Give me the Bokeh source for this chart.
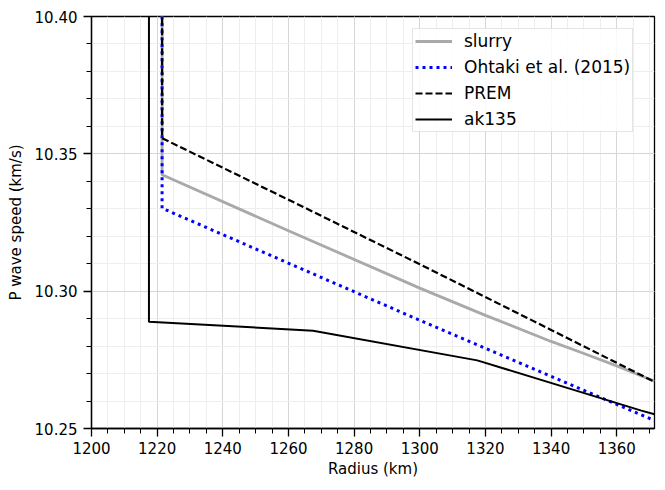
from bokeh.plotting import figure
from bokeh.embed import file_html
from bokeh.resources import INLINE
from bokeh.models import Range1d, SingleIntervalTicker, NumeralTickFormatter, Legend, LegendItem

# --- data ---
slurry_r = [1221.5, 1221.5, 1260.0, 1300.0, 1320.0, 1340.0, 1350.0, 1360.0, 1371.5]
slurry_v = [11.05, 10.3424, 10.3220, 10.3011, 10.2912, 10.2817, 10.2773, 10.2728, 10.2672]

ohtaki_r = [1221.5, 1221.5, 1300.0, 1371.5]
ohtaki_v = [11.05, 10.3302, 10.2894, 10.2529]

prem_r = [1221.5, 1221.5, 1260.0, 1300.0, 1340.0, 1371.5]
prem_v = [11.2622, 10.3557, 10.3333, 10.3098, 10.2859, 10.2670]

ak135_r = [1217.5, 1217.5, 1267.5, 1317.5, 1367.5, 1371.5]
ak135_v = [11.0427, 10.2889, 10.2856, 10.2748, 10.2565, 10.2552]

x_lo, x_hi = 1200.0, 1371.5
y_lo, y_hi = 10.25, 10.40

FONT = "DejaVu Sans"

p = figure(width=663, height=484, output_backend="svg", toolbar_location=None,
           x_range=Range1d(x_lo, x_hi), y_range=Range1d(y_lo, y_hi),
           min_border_left=91, min_border_right=9, min_border_top=16, min_border_bottom=56)

p.background_fill_color = "white"
p.border_fill_color = "white"
p.outline_line_color = "black"
p.outline_line_width = 1.3
p.outline_line_alpha = 1.0

r1 = p.line(slurry_r, slurry_v, line_color="#a9a9a9", line_width=2.8)
r2 = p.line(ohtaki_r, ohtaki_v, line_color="#0000ff", line_width=3, line_dash="3 4")
r3 = p.line(prem_r, prem_v, line_color="black", line_width=2.2, line_dash="7 3")
r4 = p.line(ak135_r, ak135_v, line_color="black", line_width=2)

p.xaxis.ticker = SingleIntervalTicker(interval=20, num_minor_ticks=4)
p.yaxis.ticker = SingleIntervalTicker(interval=0.05, num_minor_ticks=5)
p.yaxis.formatter = NumeralTickFormatter(format="0.00")

for ax in (p.xaxis[0], p.yaxis[0]):
    ax.axis_line_color = "black"
    ax.axis_line_width = 1.3
    ax.major_tick_line_color = "black"
    ax.major_tick_line_width = 1.3
    ax.minor_tick_line_color = "black"
    ax.minor_tick_line_width = 1.0
    ax.major_tick_in = 0
    ax.minor_tick_in = 0
    ax.major_tick_out = 8
    ax.minor_tick_out = 5
    ax.major_label_text_font = FONT
    ax.major_label_text_font_size = "15px"
    ax.major_label_text_color = "black"
    ax.axis_label_text_font = FONT
    ax.axis_label_text_font_size = "15px"
    ax.axis_label_text_font_style = "normal"
    ax.axis_label_text_color = "black"

p.xaxis.axis_label = "Radius (km)"
p.yaxis.axis_label = "P wave speed (km/s)"
p.xaxis.major_label_standoff = 5
p.yaxis.major_label_standoff = 6
p.xaxis.axis_label_standoff = 3
p.yaxis.axis_label_standoff = 7

for g in (p.xgrid[0], p.ygrid[0]):
    g.grid_line_color = "#d6d6d6"
    g.grid_line_width = 1
    g.minor_grid_line_color = "#eeeeee"
    g.minor_grid_line_width = 1

legend = Legend(items=[
    LegendItem(label="slurry", renderers=[r1]),
    LegendItem(label="Ohtaki et al. (2015)", renderers=[r2]),
    LegendItem(label="PREM", renderers=[r3]),
    LegendItem(label="ak135", renderers=[r4]),
], location=(321, 296))
legend.label_text_font = FONT
legend.label_text_font_size = "17px"
legend.label_text_color = "black"
legend.glyph_width = 37
legend.glyph_height = 20
legend.label_height = 20
legend.label_standoff = 12
legend.spacing = 6
legend.padding = 2
legend.margin = 0
legend.border_line_color = "#cccccc"
legend.border_line_width = 1
legend.background_fill_alpha = 0.85
p.add_layout(legend)

open("out.html", "w").write(file_html(p, INLINE))
